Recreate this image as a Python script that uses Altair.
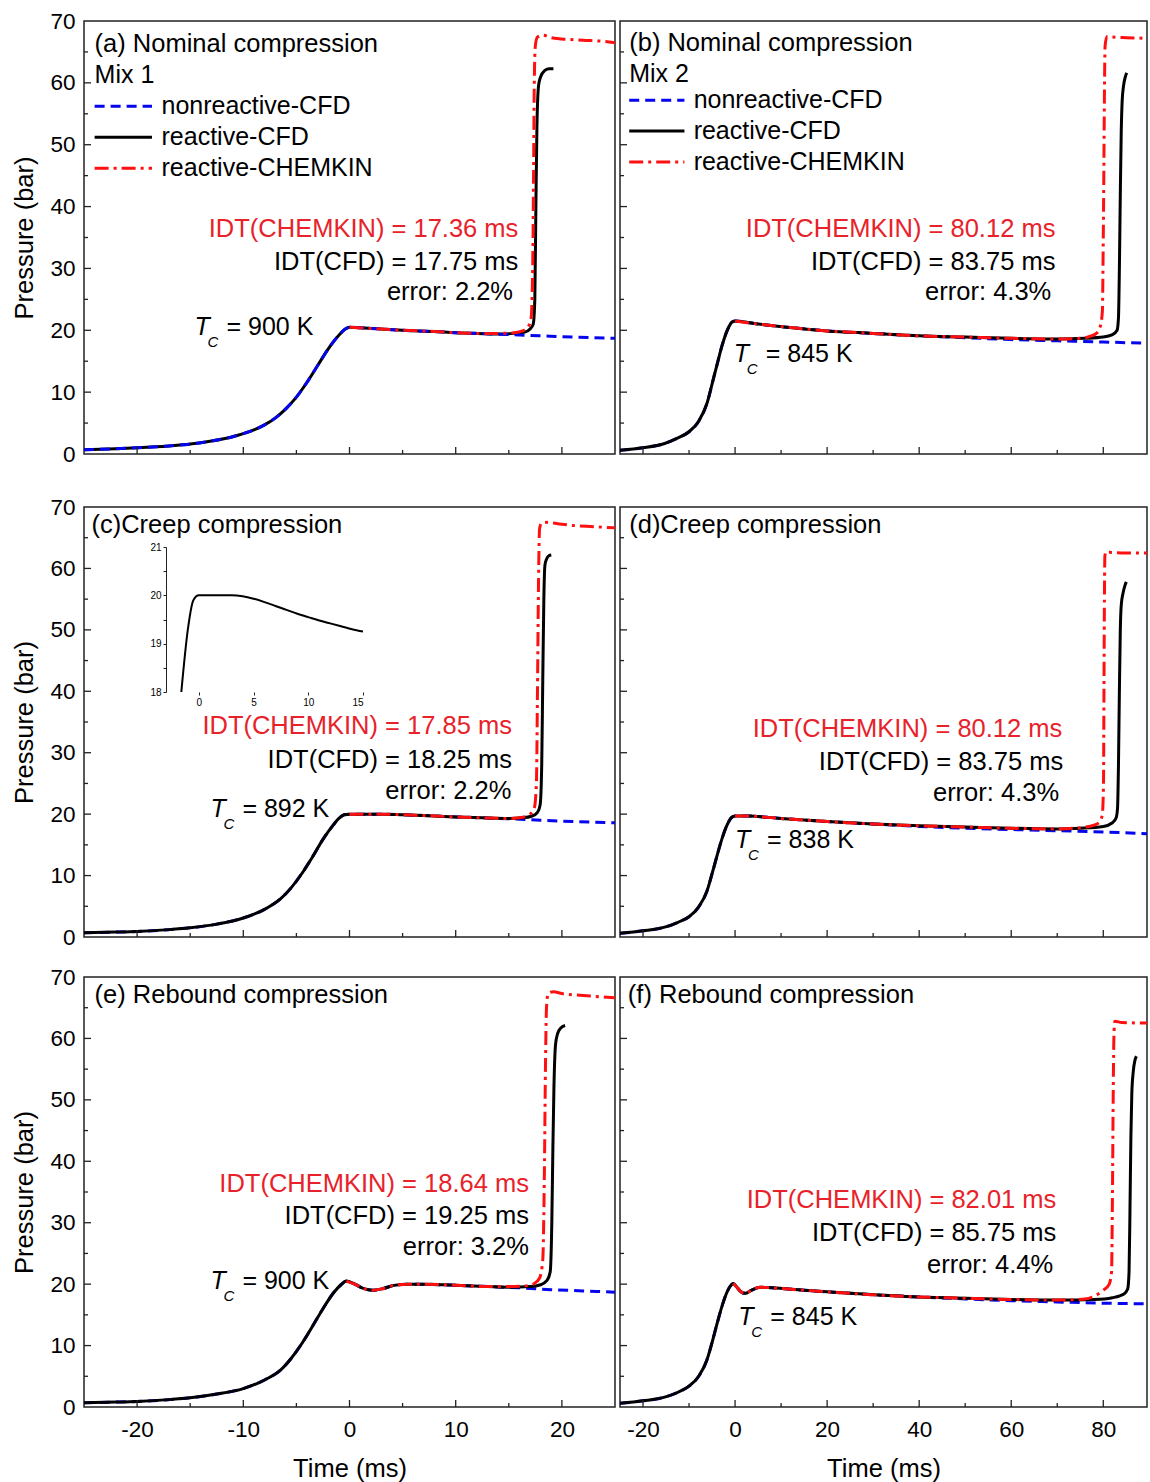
import altair as alt
import pandas as pd

FONT = "Liberation Sans"
BLUE = "#0505ee"
RED = "#ff1010"
RED_TXT = "#e8222a"
FRAME = "#222222"

# ---------------- data ----------------
SERIES = ["nonreactive-CFD", "reactive-CFD", "reactive-CHEMKIN"]
MIXES = ["Mix 1", "Mix 2"]
TITLES = ["(a) Nominal compression", "(b) Nominal compression", "(c)Creep compression",
          "(d)Creep compression", "(e) Rebound compression", "(f) Rebound compression"]
IDT_TEXT = {
    "a": ["IDT(CHEMKIN) = 17.36 ms", "IDT(CFD) = 17.75 ms", "error: 2.2%"],
    "b": ["IDT(CHEMKIN) = 80.12 ms", "IDT(CFD) = 83.75 ms", "error: 4.3%"],
    "c": ["IDT(CHEMKIN) = 17.85 ms", "IDT(CFD) = 18.25 ms", "error: 2.2%"],
    "d": ["IDT(CHEMKIN) = 80.12 ms", "IDT(CFD) = 83.75 ms", "error: 4.3%"],
    "e": ["IDT(CHEMKIN) = 18.64 ms", "IDT(CFD) = 19.25 ms", "error: 3.2%"],
    "f": ["IDT(CHEMKIN) = 82.01 ms", "IDT(CFD) = 85.75 ms", "error: 4.4%"],
}
TC_TEXT = {"a": "= 900 K", "b": "= 845 K", "c": "= 892 K", "d": "= 838 K", "e": "= 900 K", "f": "= 845 K"}

# (a) nominal, Mix 1
a_rise_t = [-25, -22, -20, -17, -15, -13, -11, -10, -9, -8, -7, -6, -5, -4, -3, -2, -1, -0.4, 0]
a_rise_p = [0.7, 0.85, 1.0, 1.3, 1.6, 2.1, 2.8, 3.3, 3.9, 4.7, 5.8, 7.3, 9.2, 11.6, 14.3, 17.0, 19.2, 20.2, 20.5]
a_black_t = [1, 3, 5, 8, 10, 12, 14, 15.5, 16.5, 17.0, 17.3, 17.45, 17.55, 17.65, 17.8, 18.0, 18.4, 18.8, 19.2]
a_black_p = [20.4, 20.2, 20.0, 19.8, 19.6, 19.5, 19.4, 19.5, 19.7, 20.2, 21.0, 25, 40, 53, 59.5, 61.0, 62.0, 62.3, 62.3]
a_red_t = [0, 2, 5, 8, 10, 12, 14, 15.5, 16.3, 16.8, 17.1, 17.25, 17.33, 17.4, 17.5, 17.7, 18.2, 19, 20, 22, 24, 25]
a_red_p = [20.5, 20.3, 20.0, 19.8, 19.6, 19.5, 19.5, 19.6, 19.9, 20.5, 22, 30, 45, 60, 66, 67.4, 67.7, 67.3, 67.1, 66.9, 66.7, 66.5]
a_blue_t = [1, 3, 5, 8, 10, 12, 15, 18, 21, 25]
a_blue_p = [20.4, 20.2, 20.0, 19.8, 19.6, 19.5, 19.3, 19.1, 18.9, 18.7]

# (b) nominal, Mix 2
b_rise_t = [-25, -20, -15.3, -12.4, -10, -7.9, -6.1, -5.0, -3.9, -2.8, -1.7, -0.7, 0]
b_rise_p = [0.6, 1.0, 1.7, 2.6, 3.6, 5.3, 8.2, 11.3, 14.5, 17.6, 20.0, 21.3, 21.5]
b_black_t = [5, 10, 20, 30, 40, 50, 60, 70, 76, 80, 82, 83.0, 83.3, 83.5, 83.7, 83.9, 84.1, 84.4, 84.8, 85.1]
b_black_p = [21.0, 20.6, 19.9, 19.5, 19.1, 18.9, 18.7, 18.6, 18.7, 18.9, 19.3, 20.0, 22.0, 30, 42, 52, 57, 59.5, 61.0, 61.6]
b_red_t = [0, 5, 10, 20, 30, 40, 50, 60, 70, 75, 77, 78.5, 79.3, 79.8, 80.0, 80.12, 80.25, 80.4, 80.8, 82, 85, 89.5]
b_red_p = [21.5, 21.0, 20.6, 19.9, 19.5, 19.1, 18.9, 18.7, 18.6, 18.7, 19.0, 19.5, 20.5, 23, 35, 45, 58, 66.0, 67.5, 67.4, 67.3, 67.2]
b_blue_t = [5, 10, 20, 30, 40, 50, 60, 70, 80, 89.5]
b_blue_p = [21.0, 20.6, 19.9, 19.5, 19.1, 18.8, 18.5, 18.3, 18.1, 17.9]

# (c) creep, Mix 1
c_rise_t = [-25, -22, -20, -17, -15, -12.5, -10, -8, -6.5, -5.5, -4.5, -3.5, -2.5, -1.5, -1.0, -0.5, 0]
c_rise_p = [0.7, 0.8, 0.9, 1.2, 1.5, 2.1, 3.1, 4.5, 6.2, 8.0, 10.3, 13.0, 15.9, 18.3, 19.3, 19.9, 20.0]
c_black_t = [3, 5, 8, 10, 12.5, 15, 16.3, 17.2, 17.7, 17.95, 18.1, 18.2, 18.3, 18.4, 18.55, 18.8, 19.0]
c_black_p = [20.0, 19.9, 19.7, 19.55, 19.4, 19.3, 19.4, 19.7, 20.3, 21.5, 28, 42, 55, 60.5, 61.5, 62.1, 62.2]
c_red_t = [0, 3, 5, 8, 10, 12.5, 15, 16.3, 17.0, 17.4, 17.6, 17.7, 17.8, 17.9, 18.1, 18.6, 19.5, 21, 23, 25]
c_red_p = [20.0, 20.0, 19.9, 19.7, 19.55, 19.4, 19.3, 19.5, 20.0, 21.0, 25, 40, 58, 66.5, 67.4, 67.5, 67.3, 67.0, 66.8, 66.6]
c_blue_t = [3, 5, 8, 10, 12.5, 15, 18, 21, 25]
c_blue_p = [20.0, 19.9, 19.7, 19.55, 19.4, 19.25, 19.0, 18.8, 18.6]
# inset of (c)
inset_t = [-1.6, -1.0, -0.5, 0, 1, 2, 3, 4, 5, 6, 7, 8, 9, 10, 11, 12, 13, 14, 15]
inset_p = [18.0, 19.3, 19.9, 20.0, 20.0, 20.0, 20.0, 19.98, 19.93, 19.86, 19.78, 19.7, 19.62, 19.55, 19.48, 19.42, 19.36, 19.3, 19.25]

# (d) creep, Mix 2
d_rise_t = [-25, -20, -15.3, -12.4, -10, -7.9, -6.1, -5.0, -3.9, -2.8, -1.7, -0.7, 0]
d_rise_p = [0.6, 1.0, 1.6, 2.4, 3.3, 4.9, 7.5, 10.3, 13.3, 16.1, 18.3, 19.5, 19.7]
d_black_t = [3, 5, 10, 20, 30, 40, 50, 60, 70, 75, 80, 82, 82.8, 83.1, 83.3, 83.5, 83.7, 83.9, 84.3, 84.7, 85.0]
d_black_p = [19.7, 19.6, 19.3, 18.8, 18.4, 18.1, 17.9, 17.7, 17.6, 17.7, 18.0, 18.6, 19.4, 21.0, 28, 40, 50, 54, 56, 57.2, 57.8]
d_red_t = [0, 3, 5, 10, 20, 30, 40, 50, 60, 70, 75, 78, 79.3, 79.8, 80.05, 80.15, 80.25, 80.35, 80.6, 82, 85, 89.5]
d_red_p = [19.7, 19.7, 19.6, 19.3, 18.8, 18.4, 18.1, 17.9, 17.7, 17.6, 17.8, 18.2, 18.8, 20.0, 25, 40, 55, 62.0, 62.7, 62.6, 62.5, 62.5]
d_blue_t = [3, 5, 10, 20, 30, 40, 50, 60, 70, 80, 89.5]
d_blue_p = [19.7, 19.6, 19.3, 18.8, 18.4, 18.0, 17.7, 17.5, 17.3, 17.1, 16.8]

# (e) rebound, Mix 1
e_rise_t = [-25, -22, -20, -17, -15, -12.5, -10, -8, -6.5, -5.5, -4.5, -3.5, -2.5, -1.5, -0.8, -0.3]
e_rise_p = [0.7, 0.8, 0.9, 1.2, 1.5, 2.1, 3.0, 4.4, 6.0, 7.9, 10.3, 13.1, 16.0, 18.6, 19.9, 20.5]
e_black_t = [0.5, 1.3, 2.2, 3.2, 4.2, 5.5, 7, 10, 13, 15, 17, 18, 18.6, 18.9, 19.05, 19.15, 19.25, 19.4, 19.6, 19.9, 20.3]
e_black_p = [20.0, 19.3, 19.0, 19.3, 19.8, 20.0, 20.0, 19.8, 19.6, 19.5, 19.6, 19.9, 20.6, 22.0, 30, 42, 52, 59, 60.8, 61.7, 62.1]
e_red_t = [-0.3, 0.5, 1.3, 2.2, 3.2, 4.2, 5.5, 7, 10, 13, 15, 16.5, 17.4, 17.9, 18.2, 18.35, 18.45, 18.55, 18.7, 19.2, 20, 22, 25]
e_red_p = [20.5, 20.0, 19.3, 19.0, 19.3, 19.8, 20.0, 20.0, 19.8, 19.6, 19.6, 19.7, 20.1, 21.0, 24, 38, 55, 65, 67.3, 67.6, 67.3, 67.0, 66.6]
e_blue_t = [0.5, 1.3, 2.2, 3.2, 4.2, 5.5, 7, 10, 13, 16, 19, 22, 25]
e_blue_p = [20.0, 19.3, 19.0, 19.3, 19.8, 20.0, 20.0, 19.8, 19.6, 19.4, 19.1, 18.9, 18.7]

# (f) rebound, Mix 2
f_rise_t = [-25, -20, -15.3, -12.4, -10, -7.9, -6.1, -5.0, -3.9, -2.8, -1.7, -0.8, -0.4]
f_rise_p = [0.6, 1.0, 1.6, 2.4, 3.4, 5.0, 7.7, 10.5, 13.6, 16.5, 18.8, 19.9, 20.1]
f_black_t = [0.5, 1.2, 2.2, 3.5, 5.5, 8, 15, 25, 37, 50, 60, 70, 78, 82, 84.5, 85.3, 85.6, 85.8, 86.0, 86.2, 86.5, 86.9, 87.2]
f_black_p = [19.4, 18.8, 18.5, 19.0, 19.5, 19.4, 19.0, 18.5, 18.0, 17.7, 17.5, 17.4, 17.5, 17.8, 18.4, 19.2, 22, 32, 44, 51, 54.5, 56.5, 57.1]
f_red_t = [-0.4, 0.5, 1.2, 2.2, 3.5, 5.5, 8, 15, 25, 37, 50, 60, 70, 76, 78.2, 80, 81.3, 81.8, 82.0, 82.15, 82.3, 82.5, 84, 89.5]
f_red_p = [20.1, 19.4, 18.8, 18.5, 19.0, 19.5, 19.4, 19.0, 18.5, 18.0, 17.7, 17.5, 17.4, 17.6, 18.1, 19.0, 20.0, 22, 35, 50, 60, 62.8, 62.6, 62.5]
f_blue_t = [0.5, 1.2, 2.2, 3.5, 5.5, 8, 15, 25, 37, 50, 60, 70, 80, 89.5]
f_blue_p = [19.4, 18.8, 18.5, 19.0, 19.5, 19.4, 19.0, 18.5, 18.0, 17.6, 17.3, 17.1, 16.9, 16.8]

# ---------------- layout (positions in data units, sizes in px) ----------------
XL, XR = [-25, 25], [-25, 89.5]
WL, WR = 531, 527
H1, H2, H3 = 433, 430, 430
XMAJ_L, XMIN_L = [-20, -10, 0, 10, 20], [-15, -5, 5, 15]
XMAJ_R, XMIN_R = [-20, 0, 20, 40, 60, 80], [-10, 10, 30, 50, 70]
YMAJ, YMIN = [10, 20, 30, 40, 50, 60], [5, 15, 25, 35, 45, 55, 65]

POS = {
    "a": dict(title=(-24.0, 66.3), idt=[(15.9, 36.4), (15.9, 31.1), (15.4, 26.2)], tc=(-14.6, 20.6),
              legend=dict(mix=(-24.0, 61.2), rows=[56.2, 51.2, 46.2], x0=-24.0, x1=-18.6, xl=-17.7)),
    "b": dict(title=(-23.0, 66.4), idt=[(69.6, 36.4), (69.6, 31.1), (68.7, 26.2)], tc=(-0.3, 16.2),
              legend=dict(mix=(-23.0, 61.4), rows=[57.2, 52.2, 47.2], x0=-23.0, x1=-11.0, xl=-9.0)),
    "c": dict(title=(-24.3, 67.0), idt=[(15.3, 34.4), (15.3, 28.8), (15.25, 23.8)], tc=(-13.1, 20.8)),
    "d": dict(title=(-23.0, 67.0), idt=[(71.1, 33.9), (71.3, 28.5), (70.4, 23.5)], tc=(0.0, 15.8)),
    "e": dict(title=(-24.0, 67.0), idt=[(16.9, 36.3), (16.9, 31.1), (16.9, 26.1)], tc=(-13.1, 20.5)),
    "f": dict(title=(-23.3, 67.0), idt=[(69.8, 33.7), (69.8, 28.3), (69.1, 23.1)], tc=(0.7, 14.7)),
}

DASH_BLUE = [10, 6]
DASH_RED = [14, 5, 3, 5]
FS_TITLE, FS_LEG, FS_IDT, FS_AX, FS_TICK = 25.5, 25, 25.5, 25.5, 22.5


def sdf(t, p):
    return pd.DataFrame({"t": t, "p": p, "i": list(range(len(t)))})


def panel(key, idx, xdom, width, height, blue, black, red, xmaj, xmin,
          show_x, show_y, blue_top=False, mix=None):
    if show_x:
        xaxis = alt.Axis(values=xmaj, labelExpr="'' + datum.value", ticks=False, domain=False,
                         grid=False, labelFontSize=FS_TICK, labelPadding=11, labelFont=FONT,
                         labelColor="black", title="Time (ms)", titleFontSize=FS_AX,
                         titleFont=FONT, titleFontWeight="normal", titleColor="black",
                         titlePadding=16)
    else:
        xaxis = None
    if show_y:
        yaxis = alt.Axis(values=[0, 10, 20, 30, 40, 50, 60, 70], ticks=False, domain=False,
                         grid=False, labelFontSize=FS_TICK, labelPadding=9, labelFont=FONT,
                         labelColor="black", title="Pressure (bar)", titleFontSize=FS_AX,
                         titleFont=FONT, titleFontWeight="normal", titleColor="black",
                         titlePadding=12)
    else:
        yaxis = None
    xs = alt.Scale(domain=xdom, nice=False, zero=False)
    ys = alt.Scale(domain=[0, 70], nice=False, zero=False)

    def X(f):
        return alt.X(f"{f}:Q", scale=xs, axis=xaxis)

    def Y(f):
        return alt.Y(f"{f}:Q", scale=ys, axis=yaxis)

    def line(df, color, dash=None):
        kw = dict(color=color, strokeWidth=3, clip=True, interpolate="monotone")
        if dash:
            kw["strokeDash"] = dash
        return alt.Chart(df).mark_line(**kw).encode(x=X("t"), y=Y("p"), order="i:Q")

    l_blue = line(blue, BLUE, DASH_BLUE)
    l_black = line(black, "black")
    l_red = line(red, RED, DASH_RED)
    layers = [l_black, l_blue, l_red] if blue_top else [l_blue, l_black, l_red]

    # inward ticks
    layers += [
        alt.Chart(pd.DataFrame({"v": xmaj})).mark_rule(color=FRAME, strokeWidth=1.3)
        .encode(x=X("v"), y=alt.value(height), y2=alt.value(height - 7)),
        alt.Chart(pd.DataFrame({"v": xmin})).mark_rule(color=FRAME, strokeWidth=1.3)
        .encode(x=X("v"), y=alt.value(height), y2=alt.value(height - 4)),
        alt.Chart(pd.DataFrame({"v": YMAJ})).mark_rule(color=FRAME, strokeWidth=1.3)
        .encode(y=Y("v"), x=alt.value(0), x2=alt.value(7)),
        alt.Chart(pd.DataFrame({"v": YMIN})).mark_rule(color=FRAME, strokeWidth=1.3)
        .encode(y=Y("v"), x=alt.value(0), x2=alt.value(4)),
    ]

    pos = POS[key]
    left_rows = [dict(t=pos["title"][0], p=pos["title"][1], label=TITLES[idx], fs=FS_TITLE, col="black")]

    if mix is not None:
        lg = pos["legend"]
        left_rows.append(dict(t=lg["mix"][0], p=lg["mix"][1], label=mix, fs=FS_LEG, col="black"))
        styles = [(BLUE, DASH_BLUE), ("black", None), (RED, DASH_RED)]
        for name, yv, (colr, dash) in zip(SERIES, lg["rows"], styles):
            kw = dict(color=colr, strokeWidth=3)
            if dash:
                kw["strokeDash"] = dash
            layers.append(
                alt.Chart(pd.DataFrame({"t0": [lg["x0"]], "t1": [lg["x1"]], "p": [yv]}))
                .mark_rule(**kw).encode(x=X("t0"), x2="t1:Q", y=Y("p"))
            )
            left_rows.append(dict(t=lg["xl"], p=yv, label=name, fs=FS_LEG, col="black"))

    layers.append(
        alt.Chart(pd.DataFrame(left_rows)).mark_text(align="left", baseline="middle", font=FONT)
        .encode(x=X("t"), y=Y("p"), text="label:N", size=alt.Size("fs:Q", scale=None),
                color=alt.Color("col:N", scale=None))
    )
    idt_rows = []
    for j, (txt, (tt, pp)) in enumerate(zip(IDT_TEXT[key], pos["idt"])):
        idt_rows.append(dict(t=tt, p=pp, label=txt, col=RED_TXT if j == 0 else "black"))
    layers.append(
        alt.Chart(pd.DataFrame(idt_rows)).mark_text(align="right", baseline="middle", font=FONT, fontSize=FS_IDT)
        .encode(x=X("t"), y=Y("p"), text="label:N", color=alt.Color("col:N", scale=None))
    )
    tcdf = pd.DataFrame([dict(t=pos["tc"][0], p=pos["tc"][1], a="T", b="C", c=TC_TEXT[key])])
    layers += [
        alt.Chart(tcdf).mark_text(align="left", baseline="middle", font=FONT, fontSize=25,
                                  fontStyle="italic", color="black")
        .encode(x=X("t"), y=Y("p"), text="a:N"),
        alt.Chart(tcdf).mark_text(align="left", baseline="middle", font=FONT, fontSize=15,
                                  fontStyle="italic", color="black", dx=13, dy=15)
        .encode(x=X("t"), y=Y("p"), text="b:N"),
        alt.Chart(tcdf).mark_text(align="left", baseline="middle", font=FONT, fontSize=25,
                                  color="black", dx=32)
        .encode(x=X("t"), y=Y("p"), text="c:N"),
    ]
    return alt.layer(*layers)


pa = panel("a", 0, XL, WL, H1, sdf(a_rise_t + a_blue_t, a_rise_p + a_blue_p),
           sdf(a_rise_t + a_black_t, a_rise_p + a_black_p), sdf(a_red_t, a_red_p),
           XMAJ_L, XMIN_L, False, True, blue_top=True, mix=MIXES[0]).properties(width=WL, height=H1)
pb = panel("b", 1, XR, WR, H1, sdf(b_rise_t + b_blue_t, b_rise_p + b_blue_p),
           sdf(b_rise_t + b_black_t, b_rise_p + b_black_p), sdf(b_red_t, b_red_p),
           XMAJ_R, XMIN_R, False, False, mix=MIXES[1]).properties(width=WR, height=H1)
pc_main = panel("c", 2, XL, WL, H2, sdf(c_rise_t + c_blue_t, c_rise_p + c_blue_p),
                sdf(c_rise_t + c_black_t, c_rise_p + c_black_p), sdf(c_red_t, c_red_p),
                XMAJ_L, XMIN_L, False, True)
inset = alt.Chart(sdf(inset_t, inset_p)).mark_line(color="black", strokeWidth=2, interpolate="monotone").encode(
    x=alt.X("t:Q", scale=alt.Scale(domain=[-3, 15], range=[82, 279], nice=False, zero=False),
            axis=alt.Axis(orient="bottom", offset=-(H2 - 185), values=[0, 5, 10, 15], domain=False,
                          tickSize=3, tickColor=FRAME, labelFontSize=10, labelPadding=2, grid=False,
                          labelFont=FONT, labelColor="black", title=None)),
    y=alt.Y("p:Q", scale=alt.Scale(domain=[18, 21], range=[185, 40], nice=False, zero=False),
            axis=alt.Axis(orient="left", offset=-82, values=[18, 18.5, 19, 19.5, 20, 20.5, 21],
                          labelExpr="datum.value % 1 === 0 ? '' + datum.value : ''", tickSize=3,
                          tickColor=FRAME, domainColor=FRAME, labelFontSize=10, labelPadding=2,
                          grid=False, labelFont=FONT, labelColor="black", title=None)),
    order="i:Q",
)
pc = alt.layer(pc_main, inset).resolve_scale(x="independent", y="independent").properties(width=WL, height=H2)
pd_ = panel("d", 3, XR, WR, H2, sdf(d_rise_t + d_blue_t, d_rise_p + d_blue_p),
            sdf(d_rise_t + d_black_t, d_rise_p + d_black_p), sdf(d_red_t, d_red_p),
            XMAJ_R, XMIN_R, False, False).properties(width=WR, height=H2)
pe = panel("e", 4, XL, WL, H3, sdf(e_rise_t + e_blue_t, e_rise_p + e_blue_p),
           sdf(e_rise_t + e_black_t, e_rise_p + e_black_p), sdf(e_red_t, e_red_p),
           XMAJ_L, XMIN_L, True, True).properties(width=WL, height=H3)
pf = panel("f", 5, XR, WR, H3, sdf(f_rise_t + f_blue_t, f_rise_p + f_blue_p),
           sdf(f_rise_t + f_black_t, f_rise_p + f_black_p), sdf(f_red_t, f_red_p),
           XMAJ_R, XMIN_R, True, False).properties(width=WR, height=H3)

row1 = alt.hconcat(pa, pb, spacing=5, bounds="flush")
row2 = alt.hconcat(pc, pd_, spacing=5, bounds="flush")
row3 = alt.hconcat(pe, pf, spacing=5, bounds="flush")
lower = alt.vconcat(row2, row3, spacing=15)

chart = (
    alt.vconcat(row1, lower, spacing=28)
    .properties(padding={"left": 12, "top": 9, "right": 0, "bottom": 2}, background="white")
    .configure_view(stroke=FRAME, strokeWidth=1.5)
)

chart.save("out.html", embed_options={"renderer": "svg", "actions": False})
